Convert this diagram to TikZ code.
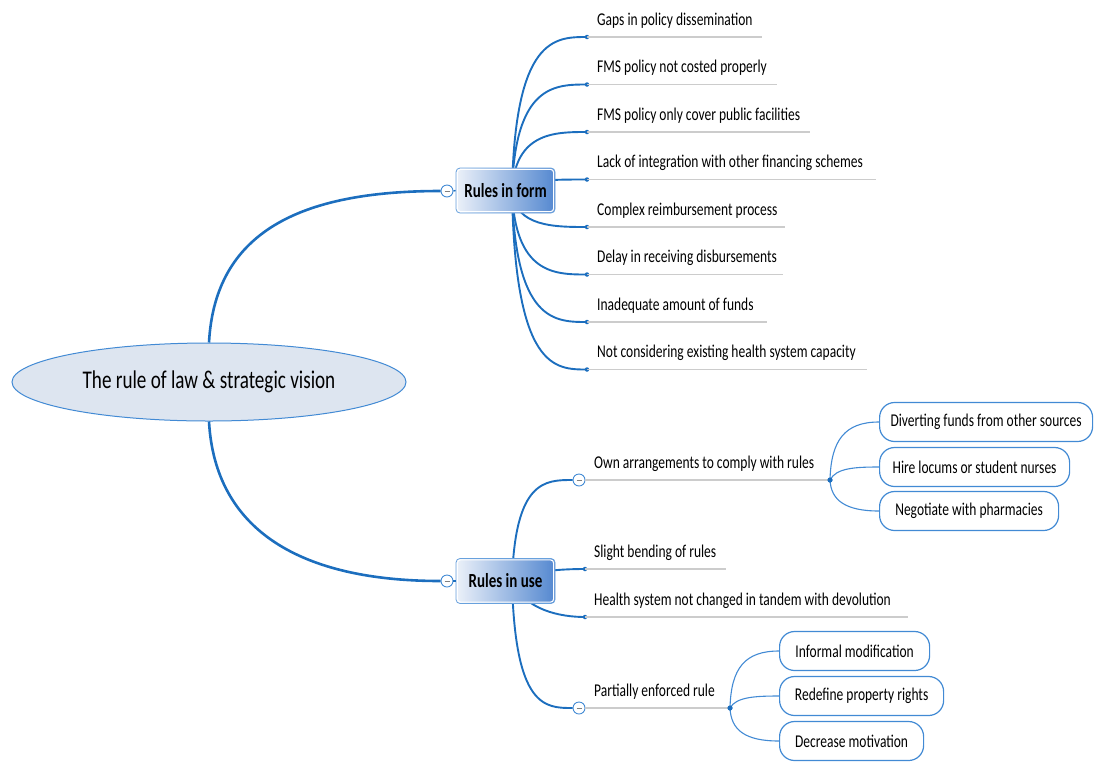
\documentclass[tikz,border=0pt]{standalone}
\usepackage{fontspec}
\setmainfont{Carlito}[FakeStretch=0.75]
\usetikzlibrary{shapes.geometric}
\definecolor{branch}{RGB}{28,110,190}
\definecolor{edgeblue}{RGB}{66,138,212}
\definecolor{rulegray}{RGB}{204,204,204}
\definecolor{ovalfill}{RGB}{221,229,240}
\definecolor{topicleft}{RGB}{236,241,249}
\definecolor{topicright}{RGB}{84,136,208}
\begin{document}
\begin{tikzpicture}[x=1pt,y=-1pt,
  leaf/.style={anchor=base west, inner sep=0pt, font=\fontsize{18}{20}\selectfont},
  underline/.style={draw=rulegray, line width=1.5pt},
  mainline/.style={draw=branch, line width=2.6pt},
  twig/.style={draw=branch, line width=1.9pt},
  thin/.style={draw=edgeblue, line width=1.1pt},
  dotnode/.style={circle, fill=branch, inner sep=0pt, minimum size=4.5pt},
  toggle/.style={circle, draw=edgeblue, fill=white, line width=0.9pt, minimum size=12pt, inner sep=0pt,
    path picture={\draw[gray, line width=0.7pt] ([xshift=-2.5pt]path picture bounding box.center) -- ([xshift=2.5pt]path picture bounding box.center);}},
  pill/.style={draw=edgeblue, line width=1.2pt, rounded corners=15pt, fill=white, minimum height=39pt,
    anchor=west, inner xsep=0pt, font=\fontsize{18}{20}\selectfont},
  topic/.style={draw=edgeblue!80, line width=0.8pt, rounded corners=4pt, minimum width=99pt, minimum height=45pt,
    left color=topicleft, right color=topicright, font=\fontsize{20}{22}\selectfont\bfseries}
]
\useasboundingbox (0,0) rectangle (1094,761);

% central topic
\node[ellipse, draw=edgeblue, line width=1pt, fill=ovalfill, minimum width=394pt, minimum height=78pt,
      inner sep=0pt, font=\fontsize{25.5}{28}\selectfont] (root) at (209,382) {The rule of law \& strategic vision};

% collapse toggles of the two main branches
\node[toggle] (tform) at (447,191) {};
\node[toggle] (tuse) at (447,581) {};

\draw[mainline] (root.north) .. controls (215,232) and (300,191) .. (tform.west);
\draw[mainline] (root.south) .. controls (215,530) and (300,581) .. (tuse.west);

% ---------- Rules in form: leaves ----------
\coordinate (cf) at (512,191);
\foreach \i/\y/\xe/\txt in {
  1/37/762/Gaps in policy dissemination,
  2/84.5/777/FMS policy not costed properly,
  3/132/810/FMS policy only cover public facilities,
  4/179.5/876/Lack of integration with other financing schemes,
  5/227/785/Complex reimbursement process,
  6/274.5/783/Delay in receiving disbursements,
  7/322/767/Inadequate amount of funds,
  8/369.5/867/Not considering existing health system capacity} {
  \node[dotnode] (fd\i) at (587,\y) {};
  \coordinate (fe\i) at (\xe,\y);
  \draw[underline] (fd\i.center) -- (fe\i);
  \node[leaf] (ft\i) at (597,\y-12) {\txt};
  \draw[twig] (cf) .. controls (515,\y) and (555,\y) .. (fd\i.center);
}

% ---------- Rules in use: leaves ----------
\coordinate (cu) at (512,581);
\node[toggle] (tarr) at (579,480) {};
\node[dotnode] (darr) at (830,480) {};
\node[dotnode] (dbend) at (585,569) {};
\node[dotnode] (dhealth) at (585,617) {};
\node[toggle] (tpart) at (579,708) {};
\node[dotnode] (dpart) at (730,708) {};
\coordinate (ebend) at (726,569);
\coordinate (ehealth) at (908,617);

\draw[twig] (cu) .. controls (515,480) and (545,480) .. (tarr.west);
\draw[twig] (cu) .. controls (530,571) and (560,569) .. (dbend.center);
\draw[twig] (cu) .. controls (525,610) and (560,617) .. (dhealth.center);
\draw[twig] (cu) .. controls (515,708) and (545,708) .. (tpart.west);

\draw[underline] (tarr.east) -- (darr.center);
\draw[underline] (dbend.center) -- (ebend);
\draw[underline] (dhealth.center) -- (ehealth);
\draw[underline] (tpart.east) -- (dpart.center);

\node[leaf] (tarrtxt) at (594,468) {Own arrangements to comply with rules};
\node[leaf] (tbendtxt) at (594,557) {Slight bending of rules};
\node[leaf] (thealthtxt) at (594,605) {Health system not changed in tandem with devolution};
\node[leaf] (tparttxt) at (594,696) {Partially enforced rule};

% sub-leaves of "Own arrangements"
\node[pill, minimum width=213pt] (p1) at (879,422) {Diverting funds from other sources};
\node[pill, minimum width=190pt] (p2) at (879,467) {Hire locums or student nurses};
\node[pill, minimum width=179pt] (p3) at (879,511) {Negotiate with pharmacies};
\draw[thin] (darr.center) .. controls (831,440) and (845,422) .. (p1.west);
\draw[thin] (darr.center) .. controls (836,468) and (855,467) .. (p2.west);
\draw[thin] (darr.center) .. controls (831,500) and (845,511) .. (p3.west);

% sub-leaves of "Partially enforced rule"
\node[pill, minimum width=150pt] (q1) at (779,651) {Informal modification};
\node[pill, minimum width=164pt] (q2) at (779,696) {Redefine property rights};
\node[pill, minimum width=144pt] (q3) at (779,741) {Decrease motivation};
\draw[thin] (dpart.center) .. controls (731,668) and (745,651) .. (q1.west);
\draw[thin] (dpart.center) .. controls (736,697) and (755,696) .. (q2.west);
\draw[thin] (dpart.center) .. controls (731,730) and (745,741) .. (q3.west);

% main topic boxes, drawn over the branch roots
\node[topic] (form) at (505.5,190.5) {Rules in form};
\node[topic] (use) at (505.5,581) {Rules in use};
\foreach \b in {form,use} {
  \draw[white, line width=1.1pt, rounded corners=3pt]
    ([shift={(1.8,1.8)}]\b.north west) rectangle ([shift={(-1.8,-1.8)}]\b.south east);
}
\draw[branch, line width=1.4pt] (tform.east) -- (form.west);
\draw[branch, line width=1.4pt] (tuse.east) -- (use.west);

% redraw dots above the lines
\foreach \d in {darr,dpart} { \fill[branch] (\d) circle (2.6pt); }
\end{tikzpicture}
\end{document}
